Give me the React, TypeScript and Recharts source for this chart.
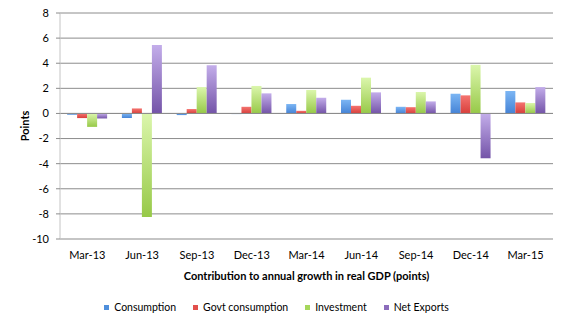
import React from 'react';
import { BarChart, Bar, XAxis, YAxis, CartesianGrid, ReferenceLine, Legend, Label } from 'recharts';

const quarters = ['Mar-13', 'Jun-13', 'Sep-13', 'Dec-13', 'Mar-14', 'Jun-14', 'Sep-14', 'Dec-14', 'Mar-15'];
const consumption = [-0.1, -0.37, -0.13, -0.05, 0.75, 1.09, 0.53, 1.57, 1.79];
const govtConsumption = [-0.37, 0.4, 0.35, 0.53, 0.21, 0.61, 0.5, 1.44, 0.88];
const investment = [-1.07, -8.24, 2.1, 2.19, 1.87, 2.85, 1.71, 3.87, 0.83];
const netExports = [-0.4, 5.45, 3.84, 1.6, 1.25, 1.68, 0.96, -3.57, 2.1];
const yTicks = [-10, -8, -6, -4, -2, 0, 2, 4, 6, 8];

const seriesNames = ['Consumption', 'Govt consumption', 'Investment', 'Net Exports'];
const seriesKeys = ['consumption', 'govt', 'investment', 'netExports'];
const seriesColors = ['#4f8fdc', '#e2504c', '#a6d75b', '#8c6dbc'];
const gradTop = ['#7cb6f4', '#f47470', '#dbf6ac', '#c3adea'];
const gradBottom = ['#4583d6', '#d83f3b', '#97c948', '#7454a8'];

const data = quarters.map((q, i) => ({
  q,
  consumption: consumption[i],
  govt: govtConsumption[i],
  investment: investment[i],
  netExports: netExports[i],
}));

const FONT = 'Lato, "Open Sans", sans-serif';

const renderLegend = () => (
  <div
    style={{
      height: 36,
      display: 'flex',
      justifyContent: 'center',
      alignItems: 'center',
      fontFamily: FONT,
      fontSize: 10.5,
      color: '#000',
      paddingLeft: 0,
    }}
  >
    {seriesNames.map((n, i) => (
      <div key={n} style={{ display: 'flex', alignItems: 'center', marginRight: i < 3 ? 17 : 0 }}>
        <span style={{ width: 5, height: 5, background: seriesColors[i], display: 'inline-block', marginRight: 5 }} />
        <span>{n}</span>
      </div>
    ))}
  </div>
);

const PointsLabel = (props: any) => {
  const vb = props.viewBox || {};
  const cx = 24;
  const cy = vb.y + vb.height / 2;
  return (
    <text
      x={cx}
      y={cy}
      transform={`rotate(-90 ${cx} ${cy})`}
      textAnchor="middle"
      dominantBaseline="central"
      fontFamily={FONT}
      fontWeight="bold"
      fontSize={11}
      fill="#000"
    >
      Points
    </text>
  );
};

export default function App() {
  return (
    <div style={{ position: 'absolute', left: 0, top: 0, width: 566, height: 325, background: '#fff' }}>
      <BarChart
        width={566}
        height={325}
        data={data}
        margin={{ top: 13, right: 13, bottom: 0, left: 0 }}
        barCategoryGap="13%"
        barGap={0}
      >
        <defs>
          {seriesKeys.map((k, i) => (
            <linearGradient key={k} id={`g-${k}`} x1="0" y1="0" x2="0" y2="1">
              <stop offset="0%" stopColor={gradTop[i]} />
              <stop offset="100%" stopColor={gradBottom[i]} />
            </linearGradient>
          ))}
        </defs>
        <CartesianGrid vertical={false} stroke="#8c8c8c" strokeWidth={1} />
        <XAxis
          dataKey="q"
          height={50}
          tickSize={0}
          tickMargin={12}
          axisLine={{ stroke: '#c4c4c4', strokeWidth: 1.5 }}
          tick={{ fontFamily: FONT, fontSize: 11, fill: '#000' }}
          interval={0}
        >
          <Label
            value="Contribution to annual growth in real GDP (points)"
            position="insideBottom"
            offset={9}
            style={{ fontFamily: FONT, fontSize: 11, fontWeight: 'bold', fill: '#000' }}
          />
        </XAxis>
        <YAxis
          width={60}
          domain={[-10, 8]}
          ticks={yTicks}
          interval={0}
          tickSize={4}
          tickMargin={7}
          axisLine={{ stroke: '#c4c4c4' }}
          tickLine={{ stroke: '#8c8c8c' }}
          tick={{ fontFamily: FONT, fontSize: 11, fill: '#000' }}
        >
          <Label content={PointsLabel} />
        </YAxis>
        <ReferenceLine y={0} stroke="#8c8c8c" />
        {seriesKeys.map((k, i) => (
          <Bar key={k} dataKey={k} name={seriesNames[i]} fill={`url(#g-${k})`} isAnimationActive={false} />
        ))}
        <Legend verticalAlign="bottom" height={36} content={renderLegend} />
      </BarChart>
    </div>
  );
}
